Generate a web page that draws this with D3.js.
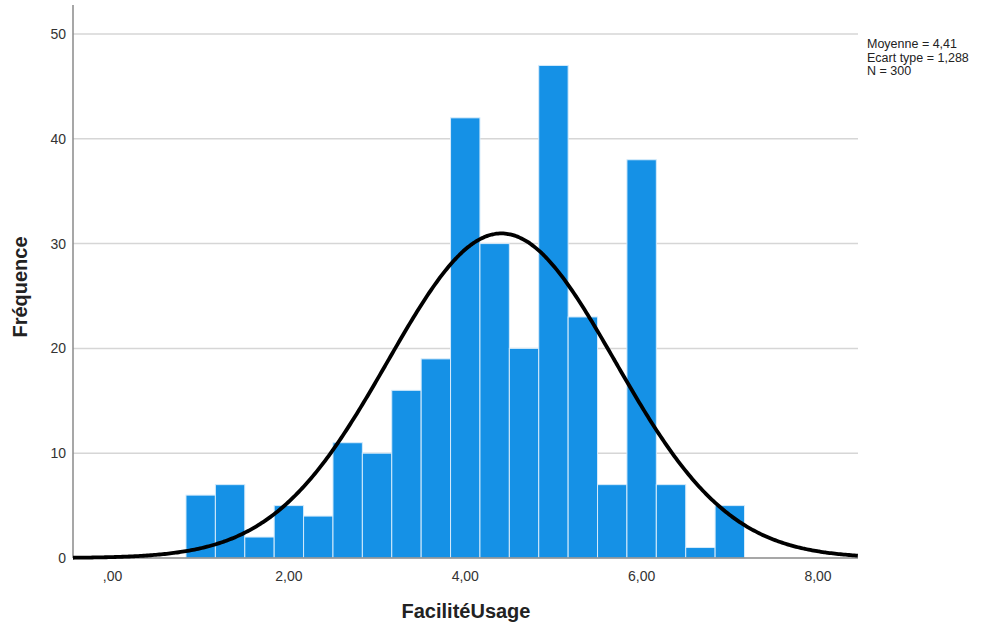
<!DOCTYPE html>
<html>
<head>
<meta charset="utf-8">
<script src="https://cdn.jsdelivr.net/npm/d3@7"></script>
<style>
  body { margin: 0; background: #fff; }
  text { font-family: "Liberation Sans", Arial, sans-serif; }
</style>
</head>
<body>
<div id="chart"></div>
<script>
// histogram bins: SPSS bins of width 1/3 starting at 5/6
const binStart = 5 / 6;
const binWidth = 1 / 3;
const counts = [6, 7, 2, 5, 4, 11, 10, 16, 19, 42, 30, 20, 47, 23, 7, 38, 7, 1, 5];
const xTicks = [0, 2, 4, 6, 8];
const yTicks = [0, 10, 20, 30, 40, 50];
const statLines = ["Moyenne = 4,41", "Ecart type = 1,288", "N = 300"];
const mean = 4.41, sd = 1.288, total = 300;

const width = 993, height = 630;

const svg = d3.select("#chart").append("svg")
    .attr("width", width)
    .attr("height", height);

const x = d3.scaleLinear().domain([0, 8]).range([112.5, 818]);
const y = d3.scaleLinear().domain([0, 50]).range([558, 34]);
const plotLeft = 73, plotRight = 858, plotTop = 5;

const fmt = v => {
    let s = v.toFixed(2).replace(".", ",");
    return s.startsWith("0,") ? s.slice(1) : s;
};

// gridlines
svg.append("g")
    .selectAll("line")
    .data(yTicks.filter(d => d > 0))
    .join("line")
      .attr("x1", plotLeft).attr("x2", plotRight)
      .attr("y1", d => y(d)).attr("y2", d => y(d))
      .attr("stroke", "#d6d6d6")
      .attr("stroke-width", 1.5);

// bars
const bins = counts.map((c, i) => ({x0: binStart + i * binWidth, x1: binStart + (i + 1) * binWidth, n: c}));
svg.append("g")
    .selectAll("rect")
    .data(bins)
    .join("rect")
      .attr("x", d => x(d.x0))
      .attr("y", d => y(d.n))
      .attr("width", d => x(d.x1) - x(d.x0))
      .attr("height", d => y(0) - y(d.n))
      .attr("fill", "#1591e6")
      .attr("stroke", "#d5ebfb")
      .attr("stroke-width", 1);

// axes lines
svg.append("line")
    .attr("x1", plotLeft).attr("x2", plotLeft)
    .attr("y1", plotTop).attr("y2", y(0))
    .attr("stroke", "#8a8a8a").attr("stroke-width", 1.5);
svg.append("line")
    .attr("x1", plotLeft).attr("x2", plotRight)
    .attr("y1", y(0)).attr("y2", y(0))
    .attr("stroke", "#8a8a8a").attr("stroke-width", 1.5);

// normal curve from the stats
const dens = v => total * binWidth / (sd * Math.sqrt(2 * Math.PI)) * Math.exp(-0.5 * ((v - mean) / sd) ** 2);
const curve = d3.range(x.invert(plotLeft), x.invert(plotRight) + 0.001, 0.02).map(v => [v, dens(v)]);
svg.append("path")
    .datum(curve)
    .attr("fill", "none")
    .attr("stroke", "#000")
    .attr("stroke-width", 3.8)
    .attr("d", d3.line().x(d => x(d[0])).y(d => y(d[1])).curve(d3.curveBasis));

// tick labels
svg.append("g")
    .selectAll("text")
    .data(yTicks)
    .join("text")
      .attr("x", 66)
      .attr("y", d => y(d) + 5)
      .attr("text-anchor", "end")
      .attr("font-size", 14)
      .attr("fill", "#333")
      .text(d => d);

svg.append("g")
    .selectAll("text")
    .data(xTicks)
    .join("text")
      .attr("x", d => x(d))
      .attr("y", 581)
      .attr("text-anchor", "middle")
      .attr("font-size", 14)
      .attr("fill", "#333")
      .text(fmt);

// axis titles
svg.append("text")
    .attr("x", 466).attr("y", 618)
    .attr("text-anchor", "middle")
    .attr("font-size", 20).attr("font-weight", "bold")
    .attr("fill", "#222")
    .text("FacilitéUsage");
svg.append("text")
    .attr("transform", "translate(27,287) rotate(-90)")
    .attr("text-anchor", "middle")
    .attr("font-size", 20).attr("font-weight", "bold")
    .attr("fill", "#222")
    .text("Fréquence");

// stats box text
svg.append("g")
    .selectAll("text")
    .data(statLines)
    .join("text")
      .attr("x", 867)
      .attr("y", (d, i) => 48 + i * 13.5)
      .attr("font-size", 12.5)
      .attr("fill", "#222")
      .text(d => d);
</script>
</body>
</html>
